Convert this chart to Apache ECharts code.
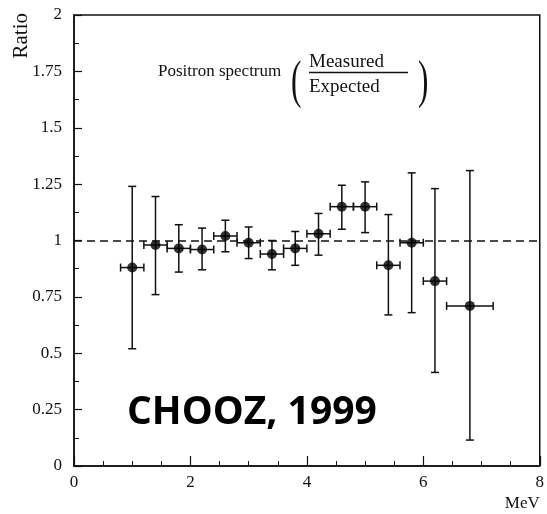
<!DOCTYPE html>
<html>
<head>
<meta charset="utf-8">
<script src="https://cdn.jsdelivr.net/npm/echarts@6/dist/echarts.min.js"></script>
<style>
html,body{margin:0;padding:0;background:#fff;}
#chart{width:547px;height:514px;}
</style>
</head>
<body>
<div id="chart"></div>
<script>
// Data
const energies = [1.0, 1.4, 1.8, 2.2, 2.6, 3.0, 3.4, 3.8, 4.2, 4.6, 5.0, 5.4, 5.8, 6.2, 6.8];
const ratios   = [0.88, 0.98, 0.965, 0.96, 1.02, 0.99, 0.94, 0.965, 1.03, 1.15, 1.15, 0.89, 0.99, 0.82, 0.71];
const upper    = [1.24, 1.195, 1.07, 1.055, 1.09, 1.06, 1.0, 1.04, 1.12, 1.245, 1.26, 1.115, 1.30, 1.23, 1.31];
const lower    = [0.52, 0.76, 0.86, 0.87, 0.95, 0.92, 0.87, 0.89, 0.935, 1.05, 1.035, 0.67, 0.68, 0.415, 0.115];
const xHalf    = [0.2, 0.2, 0.2, 0.2, 0.2, 0.2, 0.2, 0.2, 0.2, 0.2, 0.2, 0.2, 0.2, 0.2, 0.4];
const referenceRatio = 1;
const xTicks = [0, 2, 4, 6, 8];
const yTicks = [0, 0.25, 0.5, 0.75, 1, 1.25, 1.5, 1.75, 2];

const points = energies.map((e, i) => [e, ratios[i]]);
const bars = energies.map((e, i) => [e, ratios[i], lower[i], upper[i], xHalf[i]]);

const serif = '"Liberation Serif", "Times New Roman", serif';
const chart = echarts.init(document.getElementById('chart'), null, {renderer: 'canvas'});

function renderErr(params, api) {
  const x = api.value(0), y = api.value(1), lo = api.value(2), hi = api.value(3), xe = api.value(4);
  const pLo = api.coord([x, lo]);
  const pHi = api.coord([x, hi]);
  const pL = api.coord([x - xe, y]);
  const pR = api.coord([x + xe, y]);
  const c = 4;
  const st = {stroke: '#111', lineWidth: 1.5, fill: null};
  const ln = (x1, y1, x2, y2) => ({type: 'line', shape: {x1, y1, x2, y2}, style: st});
  return {
    type: 'group',
    children: [
      ln(pLo[0], pLo[1], pHi[0], pHi[1]),
      ln(pLo[0] - c, pLo[1], pLo[0] + c, pLo[1]),
      ln(pHi[0] - c, pHi[1], pHi[0] + c, pHi[1]),
      ln(pL[0], pL[1], pR[0], pR[1]),
      ln(pL[0], pL[1] - c, pL[0], pL[1] + c),
      ln(pR[0], pR[1] - c, pR[0], pR[1] + c)
    ]
  };
}

const option = {
  backgroundColor: '#fff',
  animation: false,
  grid: {left: 74, right: 4, top: 15, bottom: 48, show: true, borderColor: '#111', borderWidth: 1.5, backgroundColor: 'transparent'},
  xAxis: {
    type: 'value', min: xTicks[0], max: xTicks[xTicks.length - 1], interval: 2,
    axisLine: {show: true, onZero: false, lineStyle: {color: '#111', width: 1.5}},
    axisTick: {show: true, inside: true, length: 10, lineStyle: {color: '#111', width: 1.2}},
    minorTick: {show: true, splitNumber: 4, length: 5, lineStyle: {color: '#111', width: 1}},
    splitLine: {show: false},
    axisLabel: {color: '#111', fontFamily: serif, fontSize: 17, margin: 8},
    name: 'MeV', nameLocation: 'end', nameGap: 0,
    nameTextStyle: {color: '#111', fontFamily: serif, fontSize: 17, align: 'right', verticalAlign: 'top', padding: [29, 0, 0, 0]}
  },
  yAxis: {
    type: 'value', min: yTicks[0], max: yTicks[yTicks.length - 1], interval: 0.25,
    axisLine: {show: true, onZero: false, lineStyle: {color: '#111', width: 1.5}},
    axisTick: {show: true, inside: true, length: 8, lineStyle: {color: '#111', width: 1.2}},
    minorTick: {show: true, splitNumber: 2, length: 5, lineStyle: {color: '#111', width: 1}},
    splitLine: {show: false},
    axisLabel: {color: '#111', fontFamily: serif, fontSize: 17, margin: 12}
  },
  graphic: [
    {type: 'text', left: 11, top: 13, rotation: Math.PI / 2, style: {text: 'Ratio', font: '21px ' + serif, fill: '#111'}},
    {type: 'text', x: 158, y: 72, style: {text: 'Positron spectrum', font: '17px ' + serif, fill: '#111', align: 'left', verticalAlign: 'middle'}},
    {type: 'text', x: 291, y: 83, scaleX: 0.6, style: {text: '(', font: '52px ' + serif, fill: '#111', align: 'left', verticalAlign: 'middle'}},
    {type: 'text', x: 309, y: 62, style: {text: 'Measured', font: '19px ' + serif, fill: '#111', align: 'left', verticalAlign: 'middle'}},
    {type: 'line', shape: {x1: 309, y1: 72.5, x2: 408, y2: 72.5}, style: {stroke: '#111', lineWidth: 1.3}},
    {type: 'text', x: 309, y: 87, style: {text: 'Expected', font: '19px ' + serif, fill: '#111', align: 'left', verticalAlign: 'middle'}},
    {type: 'text', x: 418, y: 83, scaleX: 0.6, style: {text: ')', font: '52px ' + serif, fill: '#111', align: 'left', verticalAlign: 'middle'}},
    {type: 'text', x: 127, y: 413, style: {text: 'CHOOZ, 1999', font: 'bold 39px "Open Sans", "Noto Sans", sans-serif', fill: '#000', align: 'left', verticalAlign: 'middle'}}
  ],
  series: [
    {
      type: 'custom', name: 'errors', renderItem: renderErr, data: bars,
      encode: {x: 0, y: 1}, z: 2, silent: true
    },
    {
      type: 'scatter', name: 'ratio', data: points, symbol: 'circle', symbolSize: 10,
      itemStyle: {color: '#000'}, z: 3, silent: true,
      markLine: {
        symbol: 'none', silent: true, label: {show: false},
        lineStyle: {color: '#111', type: [8, 5], width: 1.6},
        data: [{yAxis: referenceRatio}]
      }
    }
  ]
};
chart.setOption(option);
</script>
</body>
</html>
